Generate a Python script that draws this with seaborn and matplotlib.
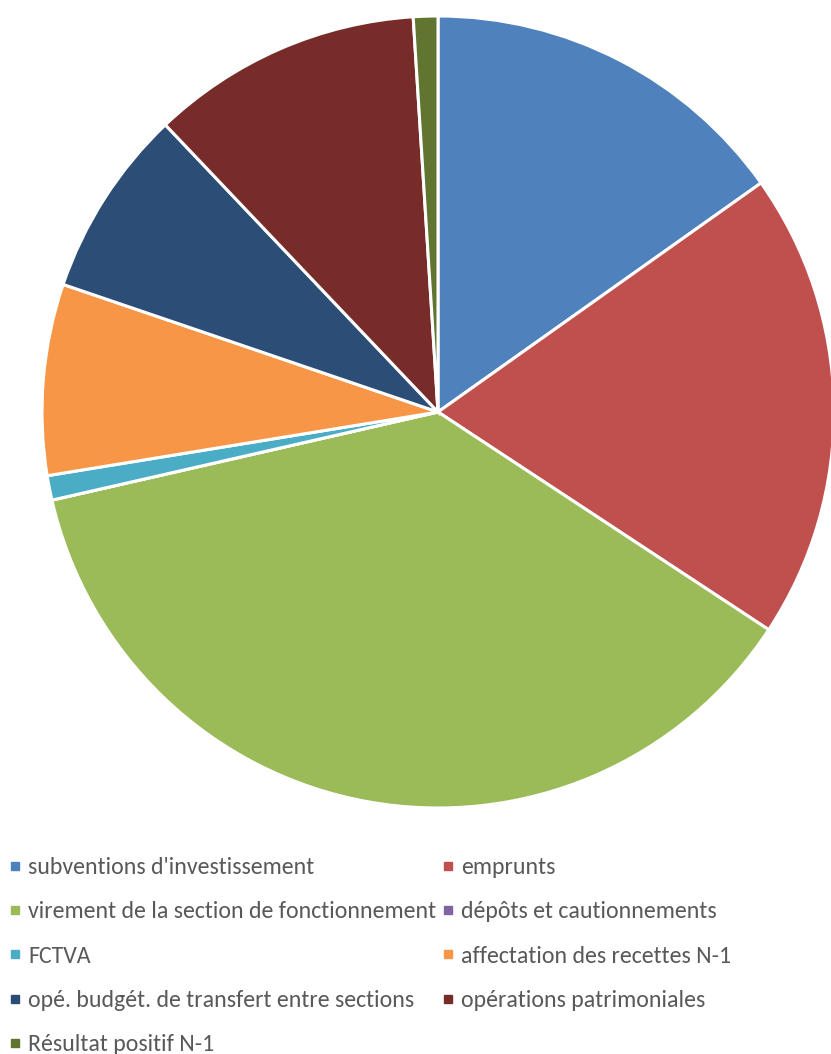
import matplotlib
matplotlib.use("Agg")
import matplotlib.pyplot as plt
from matplotlib.lines import Line2D
from matplotlib import font_manager
import seaborn as sns

categories = [
    "subventions d'investissement",
    "emprunts",
    "virement de la section de fonctionnement",
    "dépôts et cautionnements",
    "FCTVA",
    "affectation des recettes N-1",
    "opé. budgét. de transfert entre sections",
    "opérations patrimoniales",
    "Résultat positif N-1",
]
values = [15.2, 19.1, 37.2, 0.0, 1.0, 7.8, 7.7, 11.1, 1.0]
colors = ["#4F81BD", "#C0504D", "#9BBB59", "#8064A2", "#4BACC6",
          "#F79646", "#2C4D75", "#772C2A", "#5F7530"]

sns.set_theme(style="white")
names = {f.name for f in font_manager.fontManager.ttflist}
fam = "Carlito" if "Carlito" in names else "Lato"
plt.rcParams['font.family'] = [fam, 'DejaVu Sans']

W, H = 831, 1054
fig = plt.figure(figsize=(W / 100, H / 100), dpi=100)
cx, cy, r = 438, 412, 396
ax = fig.add_axes([(cx - r) / W, (H - cy - r) / H, 2 * r / W, 2 * r / H])
wedges, _ = ax.pie(values, colors=colors, startangle=90, counterclock=False,
                   radius=1, wedgeprops=dict(edgecolor="white", linewidth=2.2))
ax.set_xlim(-1, 1)
ax.set_ylim(-1, 1)
ax.set_aspect("equal")
ax.axis("off")

handles = [Line2D([0], [0], marker="s", color="none", markerfacecolor=c,
                  markeredgecolor=c, markersize=6) for c in colors]
order = [0, 2, 4, 6, 8, 1, 3, 5, 7]
fs = 17.2 if fam == "Carlito" else 15.0
fig.legend([handles[i] for i in order], [categories[i] for i in order],
           ncol=2, loc="upper left",
           bbox_to_anchor=(8 / W, 1 - 857 / H), frameon=False,
           fontsize=fs, labelcolor="#595959", handlelength=0.6,
           handletextpad=0.25, columnspacing=0.17, labelspacing=0.975,
           borderaxespad=0.0, borderpad=0.0)

fig.savefig("out.png", dpi=100)
